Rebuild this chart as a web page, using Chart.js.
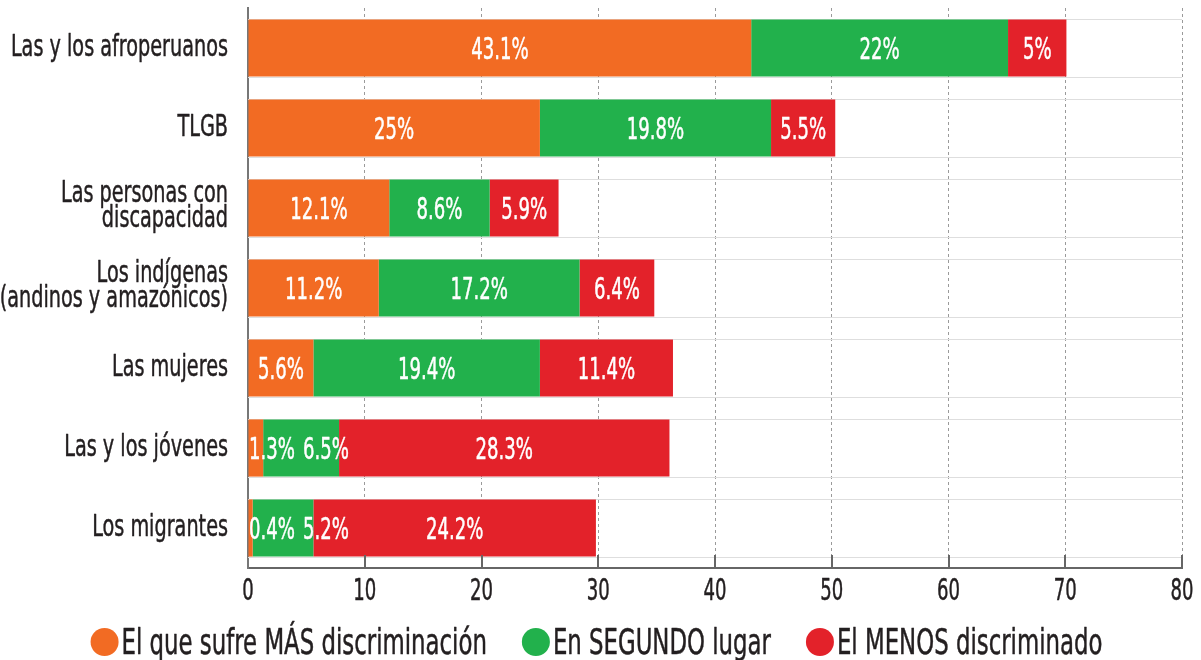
<!DOCTYPE html>
<html>
<head>
<meta charset="utf-8">
<script src="https://cdn.jsdelivr.net/npm/chart.js@4"></script>
<style>
  html, body { margin: 0; padding: 0; background: #fff; }
  #wrap { width: 1201px; height: 660px; }
</style>
</head>
<body>
<div id="wrap"><canvas id="myChart" width="1201" height="660"></canvas></div>
<script>
// categorías
var categories = [
  'Las y los afroperuanos',
  'TLGB',
  ['Las personas con', 'discapacidad'],
  ['Los indígenas', '(andinos y amazónicos)'],
  'Las mujeres',
  'Las y los jóvenes',
  'Los migrantes'
];
var seriesNames = ['El que sufre MÁS discriminación', 'En SEGUNDO lugar', 'El MENOS discriminado'];
var masDiscriminado = [43.1, 25, 12.1, 11.2, 5.6, 1.3, 0.4];
var segundoLugar    = [22, 19.8, 8.6, 17.2, 19.4, 6.5, 5.2];
var menosDiscrim    = [5, 5.5, 5.9, 6.4, 11.4, 28.3, 24.2];
var xTicks = [0, 10, 20, 30, 40, 50, 60, 70, 80];

var FONT = '"DejaVu Sans Condensed", "DejaVu Sans", sans-serif';
var TXT = '#231f20';
var colores = ['#f26b23', '#22b14c', '#e3222a'];

// la fuente original es muy condensada: se estrecha el texto con scale
function textW(ctx, t, sx) { return ctx.measureText(t).width * sx; }
function drawText(ctx, t, x, y, align, sx) {
  ctx.save();
  ctx.translate(x, y);
  ctx.scale(sx, 1);
  ctx.textAlign = align || 'left';
  ctx.strokeStyle = ctx.fillStyle;
  ctx.lineWidth = 0.5;
  ctx.lineJoin = 'round';
  ctx.fillText(t, 0, 0);
  ctx.strokeText(t, 0, 0);
  ctx.restore();
}

// etiquetas blancas dentro de las barras
var barLabels = {
  id: 'barLabels',
  afterDatasetsDraw: function(chart) {
    var ctx = chart.ctx, sx = 0.67;
    ctx.save();
    ctx.font = '30px ' + FONT;
    ctx.fillStyle = '#fff';
    ctx.textBaseline = 'alphabetic';
    for (var i = 0; i < categories.length; i++) {
      var prevRight = chart.chartArea.left;
      for (var d = 0; d < chart.data.datasets.length; d++) {
        var el = chart.getDatasetMeta(d).data[i];
        var txt = chart.data.datasets[d].data[i] + '%';
        var w = textW(ctx, txt, sx);
        var left = (el.base + el.x) / 2 - w / 2;
        var gap = d === 0 ? 1 : 8;
        if (left < prevRight + gap) left = prevRight + gap;
        drawText(ctx, txt, left, el.y + 11, 'left', sx);
        prevRight = left + w;
      }
    }
    ctx.restore();
  }
};

// líneas en los bordes de las barras, marcas del eje, textos de ejes y leyenda
var frame = {
  id: 'frame',
  beforeDatasetsDraw: function(chart) {
    var ctx = chart.ctx, area = chart.chartArea;
    ctx.save();
    ctx.strokeStyle = '#dedede';
    ctx.lineWidth = 1;
    chart.getDatasetMeta(0).data.forEach(function(el) {
      [el.y - el.height / 2, el.y + el.height / 2].forEach(function(y) {
        ctx.beginPath();
        ctx.moveTo(area.left, Math.round(y) + 0.5);
        ctx.lineTo(area.right, Math.round(y) + 0.5);
        ctx.stroke();
      });
    });
    ctx.restore();
  },
  afterDraw: function(chart) {
    var ctx = chart.ctx, area = chart.chartArea;
    var xs = chart.scales.x, ys = chart.scales.y;
    ctx.save();
    // marcas hacia adentro
    ctx.strokeStyle = '#666';
    ctx.lineWidth = 2;
    xTicks.forEach(function(v) {
      if (v === 0) return;
      var x = Math.round(xs.getPixelForValue(v));
      ctx.beginPath();
      ctx.moveTo(x, area.bottom);
      ctx.lineTo(x, area.bottom - 13);
      ctx.stroke();
    });
    ctx.fillStyle = TXT;
    ctx.textBaseline = 'alphabetic';
    // números del eje x
    ctx.font = '30px ' + FONT;
    xTicks.forEach(function(v) {
      drawText(ctx, String(v), xs.getPixelForValue(v), area.bottom + 32, 'center', 0.67);
    });
    // categorías
    ctx.font = '31px ' + FONT;
    categories.forEach(function(c, i) {
      var yc = ys.getPixelForValue(i);
      var x = area.left - 20;
      if (Array.isArray(c)) {
        drawText(ctx, c[0], x, yc - 6, 'right', 0.69);
        drawText(ctx, c[1], x, yc + 19, 'right', 0.69);
      } else {
        drawText(ctx, c, x, yc + 8, 'right', 0.69);
      }
    });
    // leyenda
    ctx.font = '36px ' + FONT;
    var sxl = 0.705, r = 14, gapTxt = 3, gapItem = 35;
    var total = 0;
    seriesNames.forEach(function(n, k) {
      total += 2 * r + gapTxt + textW(ctx, n, sxl) + (k ? gapItem : 0);
    });
    var x = chart.width / 2 - total / 2 - 4;
    var yl = 642;
    seriesNames.forEach(function(n, k) {
      ctx.fillStyle = colores[k];
      ctx.beginPath();
      ctx.arc(x + r, yl, r, 0, Math.PI * 2);
      ctx.fill();
      ctx.fillStyle = TXT;
      x += 2 * r + gapTxt;
      drawText(ctx, n, x, yl + 12, 'left', sxl);
      x += textW(ctx, n, sxl) + gapItem;
    });
    ctx.restore();
  }
};

var ctx = document.getElementById('myChart');
var myChart = new Chart(ctx, {
  type: 'bar',
  data: {
    labels: categories,
    datasets: [
      { label: seriesNames[0], data: masDiscriminado, backgroundColor: colores[0] },
      { label: seriesNames[1], data: segundoLugar, backgroundColor: colores[1] },
      { label: seriesNames[2], data: menosDiscrim, backgroundColor: colores[2] }
    ]
  },
  options: {
    indexAxis: 'y',
    responsive: false,
    animation: false,
    categoryPercentage: 0.715,
    barPercentage: 1,
    layout: { padding: { left: 0, right: 19, top: 8, bottom: 52 } },
    scales: {
      x: {
        stacked: true,
        min: 0,
        max: 80,
        afterBuildTicks: function(scale) {
          scale.ticks = xTicks.map(function(v) { return { value: v }; });
        },
        afterFit: function(scale) { scale.height = 40; },
        grid: { color: '#9a9a9a', lineWidth: 1, drawTicks: false, tickLength: 0 },
        border: { display: true, color: '#666', width: 2, dash: [3, 3] },
        ticks: { display: false }
      },
      y: {
        stacked: true,
        afterFit: function(scale) { scale.width = 248; },
        grid: { display: false, drawTicks: false },
        border: { display: true, color: '#777', width: 2 },
        ticks: { display: false }
      }
    },
    plugins: {
      legend: { display: false },
      tooltip: { enabled: false }
    }
  },
  plugins: [barLabels, frame]
});
</script>
</body>
</html>
